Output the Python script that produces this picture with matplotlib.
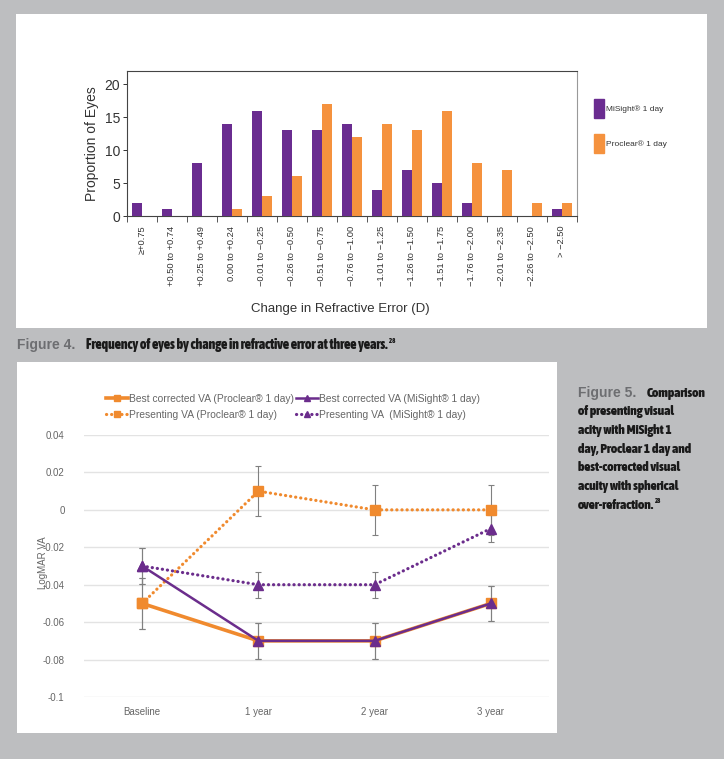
import matplotlib
matplotlib.use("Agg")
import matplotlib.pyplot as plt
from matplotlib import font_manager
from matplotlib.font_manager import FontProperties
from matplotlib.patches import Rectangle, Patch
import numpy as np

# ---------------- data ----------------
bar_categories = ["≥+0.75", "+0.50 to +0.74", "+0.25 to +0.49", "0.00 to +0.24",
                  "−0.01 to −0.25", "−0.26 to −0.50", "−0.51 to −0.75", "−0.76 to −1.00",
                  "−1.01 to −1.25", "−1.26 to −1.50", "−1.51 to −1.75", "−1.76 to −2.00",
                  "−2.01 to −2.35", "−2.26 to −2.50", "> −2.50"]
misight_counts = [2, 1, 8, 14, 16, 13, 13, 14, 4, 7, 5, 2, 0, 0, 1]
proclear_counts = [0, 0, 0, 1, 3, 6, 17, 12, 14, 13, 16, 8, 7, 2, 2]
bar_yticks = [0, 5, 10, 15, 20]

visits = ["Baseline", "1 year", "2 year", "3 year"]
bc_proclear = [-0.05, -0.07, -0.07, -0.05]
bc_misight = [-0.03, -0.07, -0.07, -0.05]
pres_proclear = [-0.05, 0.01, 0.0, 0.0]
pres_misight = [-0.03, -0.04, -0.04, -0.01]
err_bc_proclear = [0.0135, 0.0095, 0.0095, 0.0095]
err_bc_misight = [0.0095, 0.0095, 0.0095, 0.0095]
err_pres_proclear = [0.0135, 0.0135, 0.0135, 0.0135]
err_pres_misight = [0.0095, 0.007, 0.007, 0.007]
va_yticks = [0.04, 0.02, 0.0, -0.02, -0.04, -0.06, -0.08, -0.1]
va_yticklabels = ["0.04", "0.02", "0", "-0.02", "-0.04", "-0.06", "-0.08", "-0.1"]

# ---------------- style ----------------
W, H = 724, 759
DPI = 100
BG = "#bdbec0"
PURPLE = "#6a2c90"
ORANGE = "#f5923e"
LPURPLE = "#6b2d8c"
LORANGE = "#f08a2e"

SANS = ["Liberation Sans", "DejaVu Sans"]
plt.rcParams["font.family"] = SANS

# find a narrow bold font for the captions
narrow = None
best = 10
order = {"ultra-condensed": 0, "extra-condensed": 1, "condensed": 2, "semi-condensed": 3}
for f in font_manager.fontManager.ttflist:
    st = f.stretch if isinstance(f.stretch, str) else ""
    nm = f.name.lower()
    rank = order.get(st, None)
    if rank is None and ("narrow" in nm or "condensed" in nm):
        rank = 2
    w = f.weight if isinstance(f.weight, (int, float)) else 700 if "bold" in str(f.weight) else 400
    if rank is None or w < 600 or f.style != "normal":
        continue
    if "dejavu" in nm:
        rank += 0.5
    if rank < best:
        best = rank
        narrow = f.fname
if narrow:
    CAPFONT = FontProperties(fname=narrow)
else:
    CAPFONT = FontProperties(family="DejaVu Sans", weight="bold", stretch="condensed")

fig = plt.figure(figsize=(W / DPI, H / DPI), dpi=DPI, facecolor=BG)


def rect(x0, y0, x1, y1):
    return [x0 / W, 1 - y1 / H, (x1 - x0) / W, (y1 - y0) / H]


def fx(x):
    return x / W


def fy(y):
    return 1 - y / H


# white panels
fig.patches.append(Rectangle((fx(16), fy(328)), (707 - 16) / W, (328 - 14) / H,
                             transform=fig.transFigure, facecolor="white", edgecolor="none", zorder=-10))
fig.patches.append(Rectangle((fx(17), fy(733)), (557 - 17) / W, (733 - 362) / H,
                             transform=fig.transFigure, facecolor="white", edgecolor="none", zorder=-10))

# ---------------- bar chart ----------------
ax1 = fig.add_axes(rect(127, 71, 577, 216))
ax1.set_facecolor("none")
x = np.arange(len(bar_categories))
bw = 0.32
ax1.bar(x - bw / 2, misight_counts, width=bw, color=PURPLE, label="MiSight® 1 day", zorder=3)
ax1.bar(x + bw / 2, proclear_counts, width=bw, color=ORANGE, label="Proclear® 1 day", zorder=3)
ax1.set_xlim(-0.5, len(bar_categories) - 0.5)
ax1.set_ylim(0, 22)
ax1.set_yticks(bar_yticks)
ax1.tick_params(axis="y", labelsize=10, colors="#333333", length=3, width=0.7, pad=2)
ax1.set_xticks(np.arange(-0.5, len(bar_categories)), minor=False)
ax1.set_xticklabels([])
ax1.set_xticks(x, minor=True)
ax1.set_xticklabels(bar_categories, minor=True, rotation=90, fontsize=6.7, color="#333333")
ax1.tick_params(axis="x", which="major", length=4, width=0.7, color="#555555")
ax1.tick_params(axis="x", which="minor", length=0, pad=7)
for s in ax1.spines.values():
    s.set_color("#444444")
    s.set_linewidth(0.8)
ax1.spines["right"].set_color("#999999")
ax1.set_ylabel("Proportion of Eyes", fontsize=10, color="#333333", labelpad=4)
fig.text(fx(340), fy(309), "Change in Refractive Error (D)", fontsize=9.5, color="#333333",
         ha="center", va="center")

leg1 = fig.legend(handles=[Patch(color=PURPLE, label="MiSight® 1 day"),
                           Patch(color=ORANGE, label="Proclear® 1 day")],
                  loc="upper left", bbox_to_anchor=(fx(594), fy(99)), frameon=False,
                  fontsize=6, handlelength=1.25, handleheight=3.1, labelspacing=1.9,
                  handletextpad=0.2, borderpad=0, borderaxespad=0)
for t in leg1.get_texts():
    t.set_color("#333333")

# ---------------- line chart ----------------
ax2 = fig.add_axes(rect(84, 435, 549, 697))
ax2.set_facecolor("none")
xv = np.arange(len(visits))
ecol = "#808080"
for vals, errs in [(pres_proclear, err_pres_proclear), (pres_misight, err_pres_misight),
                   (bc_proclear, err_bc_proclear), (bc_misight, err_bc_misight)]:
    ax2.errorbar(xv, vals, yerr=errs, fmt="none", ecolor=ecol, elinewidth=0.8,
                 capsize=2, capthick=0.8, zorder=2)

dot = (0, (0.05, 1.55))
l_pp, = ax2.plot(xv, pres_proclear, color=LORANGE, lw=2.3, ls=dot, marker="s", ms=7.5,
                 dash_capstyle="round", label="Presenting VA (Proclear® 1 day)", zorder=3)
l_pm, = ax2.plot(xv, pres_misight, color=LPURPLE, lw=2.3, ls=dot, marker="^", ms=7.5,
                 dash_capstyle="round", label="Presenting VA  (MiSight® 1 day)", zorder=4)
l_bp, = ax2.plot(xv, bc_proclear, color=LORANGE, lw=2.6, ls="-", marker="s", ms=7.5,
                 label="Best corrected VA (Proclear® 1 day)", zorder=5)
l_bm, = ax2.plot(xv, bc_misight, color=LPURPLE, lw=1.8, ls="-", marker="^", ms=7.5,
                 label="Best corrected VA (MiSight® 1 day)", zorder=6)

ax2.set_xlim(-0.5, len(visits) - 0.5)
ax2.set_ylim(-0.1, 0.04)
ax2.set_yticks(va_yticks)
ax2.set_yticklabels(va_yticklabels)
ax2.set_xticks(xv)
ax2.set_xticklabels(visits)
ax2.tick_params(axis="both", length=0, labelsize=7, colors="#666666")
ax2.tick_params(axis="y", pad=14)
ax2.tick_params(axis="x", pad=7)
ax2.grid(axis="y", color="#e3e3e3", lw=1.0, zorder=0)
ax2.set_axisbelow(True)
for s in ax2.spines.values():
    s.set_visible(False)
fig.text(fx(43), fy(563), "LogMAR VA", rotation=90, fontsize=7, color="#666666",
         ha="center", va="center")

leg2 = fig.legend(handles=[l_bp, l_pp, l_bm, l_pm], ncol=2, loc="upper left",
                  bbox_to_anchor=(fx(106), fy(394)), frameon=False, fontsize=7.4,
                  handlelength=2.1, handletextpad=0.15, columnspacing=0.2,
                  labelspacing=0.55, borderpad=0, borderaxespad=0, markerscale=0.55)
for t in leg2.get_texts():
    t.set_color("#666666")

# ---------------- captions ----------------
renderer = fig.canvas.get_renderer()


def fit_size(s, width_px, base=10.5):
    t = fig.text(0, 0, s, fontproperties=CAPFONT, fontsize=base)
    wpx = t.get_window_extent(renderer).width
    t.remove()
    return base * width_px / wpx


fig.text(fx(17), fy(345), "Figure 4.", fontsize=10, fontweight="bold", color="#6d6e71",
         ha="left", va="center", family=SANS)
s4 = fit_size("Frequency of eyes by change in refractive error at three years.", 302)
t4 = fig.text(fx(86), fy(345), "Frequency of eyes by change in refractive error at three years.",
              fontproperties=CAPFONT, fontsize=s4, color="#1a1a1a", ha="left", va="center")
e4 = t4.get_window_extent(renderer)
fig.text(e4.x1 / W + 1 / W, fy(341), "28", fontproperties=CAPFONT, fontsize=s4 * 0.5,
         color="#1a1a1a", ha="left", va="center")

fig.text(fx(578), fy(393), "Figure 5.", fontsize=10, fontweight="bold", color="#6d6e71",
         ha="left", va="center", family=SANS)
s5 = fit_size("day, Proclear 1 day and", 114)
fig.text(fx(647), fy(393), "Comparison", fontproperties=CAPFONT, fontsize=s5,
         color="#1a1a1a", ha="left", va="center")
cap_lines = ["of presenting visual", "acity with MiSight 1", "day, Proclear 1 day and",
             "best-corrected visual", "acuity with spherical", "over-refraction."]
last = None
for i, line in enumerate(cap_lines):
    last = fig.text(fx(578), fy(393 + 18.7 * (i + 1)), line, fontproperties=CAPFONT,
                    fontsize=s5, color="#1a1a1a", ha="left", va="center")
ext = last.get_window_extent(renderer)
fig.text(ext.x1 / W + 1 / W, fy(393 + 18.7 * 6 - 4), "28", fontproperties=CAPFONT,
         fontsize=s5 * 0.5, color="#1a1a1a", ha="left", va="center")

fig.savefig("out.png", dpi=DPI, facecolor=BG)
